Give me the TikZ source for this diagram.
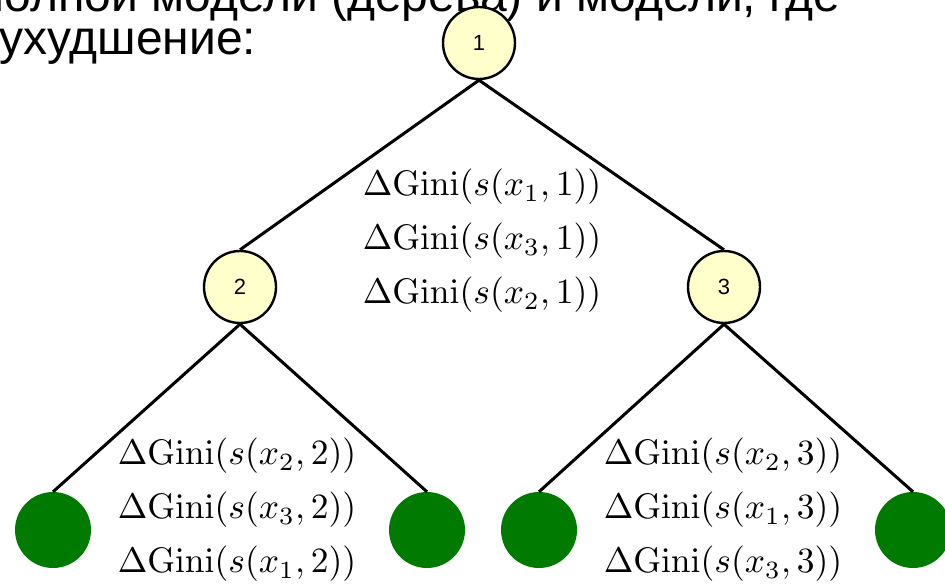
\documentclass[tikz,border=0pt]{standalone}
\usepackage{graphicx}
\usepackage[no-math]{fontspec}
\newfontfamily\labelsans{Liberation Sans}
\definecolor{nodefill}{RGB}{255,255,204}
\definecolor{leafgreen}{RGB}{0,122,0}
% impurity gain of splitting on feature x_#1 at node #2
\newcommand{\giniterm}[2]{\scalebox{3.55}{$\Delta\mathrm{Gini}(s(x_{#1},#2))$}}
\tikzset{
  splitnode/.style={circle, draw=black, line width=2.4pt, fill=nodefill,
    minimum size=72pt, inner sep=0pt, font=\labelsans\fontsize{22}{26}\selectfont},
  leafnode/.style={circle, fill=leafgreen, minimum size=76pt, inner sep=0pt},
  branch/.style={line width=3pt, black},
  gainline/.style={inner sep=0pt},
  slidetext/.style={inner sep=0pt, font=\labelsans\fontsize{48}{50}\selectfont}
}
\begin{document}
\begin{tikzpicture}[x=1pt, y=-1pt]
  \useasboundingbox (0,0) rectangle (945,585);
  \clip (0,0) rectangle (945,585);

  % heading lines of the slide
  \node[slidetext, anchor=base east] (head1) at (840,12) {полной модели (дерева) и модели, где};
  \node[slidetext, anchor=base west] (head2) at (-1,55) {ухудшение:};

  % tree nodes
  \node[splitnode] (n1) at (479,43) {1};
  \node[splitnode] (n2) at (240,287) {2};
  \node[splitnode] (n3) at (724,287) {3};
  \node[leafnode] (l1) at (53,530) {};
  \node[leafnode] (l2) at (427,530) {};
  \node[leafnode] (l3) at (539,530) {};
  \node[leafnode] (l4) at (913,530) {};

  % branches
  \draw[branch] (n1.south) -- (n2.north);
  \draw[branch] (n1.south) -- (n3.north);
  \draw[branch] (n2.south) -- (l1.north);
  \draw[branch] (n2.south) -- (l2.north);
  \draw[branch] (n3.south) -- (l3.north);
  \draw[branch] (n3.south) -- (l4.north);

  % candidate splits at node 1
  \node[gainline] (g1a) at (482,187) {\giniterm{1}{1}};
  \node[gainline] (g1b) at (482,241) {\giniterm{3}{1}};
  \node[gainline] (g1c) at (482,295) {\giniterm{2}{1}};
  % candidate splits at node 2
  \node[gainline] (g2a) at (237,456) {\giniterm{2}{2}};
  \node[gainline] (g2b) at (237,510) {\giniterm{3}{2}};
  \node[gainline] (g2c) at (237,564) {\giniterm{1}{2}};
  % candidate splits at node 3
  \node[gainline] (g3a) at (723,456) {\giniterm{2}{3}};
  \node[gainline] (g3b) at (723,510) {\giniterm{1}{3}};
  \node[gainline] (g3c) at (723,564) {\giniterm{3}{3}};
\end{tikzpicture}
\end{document}
